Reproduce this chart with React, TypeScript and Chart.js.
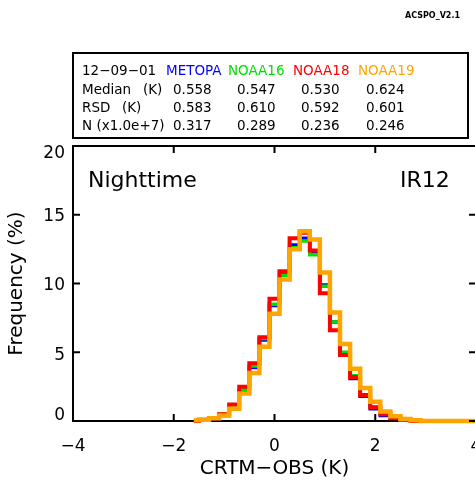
import React, { useEffect, useRef } from 'react';
import { Chart, registerables } from 'chart.js';

Chart.register(...registerables);

// ---- data ----
const binCenters = [
  -1.6, -1.4, -1.2, -1.0, -0.8, -0.6, -0.4, -0.2, 0.0, 0.2, 0.4, 0.6, 0.8, 1.0, 1.2,
  1.4, 1.6, 1.8, 2.0, 2.2, 2.4, 2.6, 2.8, 3.0, 3.2, 3.4, 3.6, 3.8, 4.0,
];
const metopaFreq = [
  0.0, 0.1, 0.2, 0.4, 1.0, 2.2, 3.9, 5.9, 8.4, 10.8, 12.8, 13.3, 12.3, 9.9, 7.2,
  4.9, 3.1, 1.8, 0.9, 0.4, 0.2, 0.1, 0.0, 0.0, 0.0, 0.0, 0.0, 0.0, 0.0,
];
const noaa16Freq = [
  0.0, 0.1, 0.2, 0.5, 1.1, 2.3, 4.0, 6.0, 8.5, 10.6, 12.6, 13.1, 12.1, 9.8, 7.2,
  5.0, 3.3, 1.9, 1.0, 0.5, 0.2, 0.1, 0.0, 0.0, 0.0, 0.0, 0.0, 0.0, 0.0,
];
const noaa18Freq = [
  0.0, 0.1, 0.2, 0.5, 1.2, 2.5, 4.2, 6.1, 8.9, 10.9, 13.3, 13.7, 12.4, 9.3, 6.6,
  4.8, 3.2, 1.9, 1.0, 0.5, 0.2, 0.1, 0.0, 0.0, 0.0, 0.0, 0.0, 0.0, 0.0,
];
const noaa19Freq = [
  0.05, 0.1, 0.2, 0.4, 0.9, 2.0, 3.5, 5.4, 7.8, 10.3, 12.5, 13.8, 13.2, 10.8, 7.9,
  5.6, 3.8, 2.4, 1.4, 0.7, 0.35, 0.15, 0.05, 0.0, 0.0, 0.0, 0.0, 0.0, 0.0,
];

const satellites = ['METOPA', 'NOAA16', 'NOAA18', 'NOAA19'];
const satColors = ['#0000ff', '#00e000', '#ff0000', '#ffa500'];
const medians = ['0.558', '0.547', '0.530', '0.624'];
const rsds = ['0.583', '0.610', '0.592', '0.601'];
const counts = ['0.317', '0.289', '0.236', '0.246'];
const dateLabel = '12\u221209\u221201';

const xTicks = [-4, -2, 0, 2, 4];
const yTicks = [0, 5, 10, 15, 20];

const FONT = '"DejaVu Sans", "Liberation Sans", sans-serif';

const fmt = (v: number) => (v < 0 ? '\u2212' + Math.abs(v) : String(v));

const overlay = {
  id: 'overlay',
  beforeDraw(chart: any) {
    const ys = chart.scales.y;
    try {
      const items = ys.getLabelItems(chart.chartArea);
      const shifts: Record<string, number> = { '0': -5, '5': 3, '10': 2, '15': 2, '20': 8 };
      items.forEach((it: any) => {
        if (it.__shifted) return;
        const s = shifts[String(it.label)] ?? 0;
        it.options.translation = [it.options.translation[0], it.options.translation[1] + s];
        it.__shifted = true;
      });
    } catch (e) {
      /* ignore */
    }
  },
  afterDraw(chart: any) {
    const ctx = chart.ctx as CanvasRenderingContext2D;
    const { left, right, top, bottom } = chart.chartArea;
    const xs = chart.scales.x;
    const ys = chart.scales.y;
    ctx.save();
    // frame top/right
    ctx.strokeStyle = '#000';
    ctx.lineWidth = 2;
    ctx.beginPath();
    ctx.moveTo(left - 1, top);
    ctx.lineTo(right, top);
    ctx.lineTo(right, bottom);
    ctx.stroke();
    // inward ticks
    const tl = 7;
    ctx.beginPath();
    xTicks.forEach((v) => {
      const px = xs.getPixelForValue(v);
      ctx.moveTo(px, bottom);
      ctx.lineTo(px, bottom - tl);
      ctx.moveTo(px, top);
      ctx.lineTo(px, top + tl);
    });
    yTicks.forEach((v) => {
      const py = ys.getPixelForValue(v);
      ctx.moveTo(left, py);
      ctx.lineTo(left + tl, py);
      ctx.moveTo(right, py);
      ctx.lineTo(right - tl, py);
    });
    ctx.stroke();

    // in-plot labels
    ctx.fillStyle = '#000';
    ctx.textBaseline = 'alphabetic';
    ctx.textAlign = 'left';
    ctx.font = `22px ${FONT}`;
    ctx.fillText('Nighttime', 88, 187);
    ctx.fillText('IR12', 400, 187);

    // version tag
    ctx.font = `bold 8px ${FONT}`;
    ctx.fillText('ACSPO_V2.1', 405, 18);

    // stats box
    ctx.fillStyle = '#fff';
    ctx.fillRect(73, 53, 395, 85);
    ctx.strokeStyle = '#000';
    ctx.lineWidth = 2;
    ctx.strokeRect(73, 53, 395, 85);

    ctx.font = `13.5px ${FONT}`;
    ctx.fillStyle = '#000';
    const rows = [75, 94, 112, 130];
    ctx.fillText(dateLabel, 82, rows[0]);
    ctx.fillText('Median', 82, rows[1]);
    ctx.fillText('(K)', 143, rows[1]);
    ctx.fillText('RSD', 82, rows[2]);
    ctx.fillText('(K)', 122, rows[2]);
    ctx.fillText('N (x1.0e+7)', 82, rows[3]);
    const headX = [166, 228, 293, 358];
    const valX = [173, 237, 301, 366];
    satellites.forEach((s, i) => {
      ctx.fillStyle = satColors[i];
      ctx.fillText(s, headX[i], rows[0]);
      ctx.fillStyle = '#000';
      ctx.fillText(medians[i], valX[i], rows[1]);
      ctx.fillText(rsds[i], valX[i], rows[2]);
      ctx.fillText(counts[i], valX[i], rows[3]);
    });
    ctx.restore();
  },
};

export default function App() {
  const ref = useRef<HTMLCanvasElement | null>(null);
  useEffect(() => {
    if (!ref.current) return;
    const series = [metopaFreq, noaa16Freq, noaa18Freq, noaa19Freq];
    const widths = [3.5, 3.5, 4, 4.5];
    const orders = [3, 2, 1, 0];
    const chart = new Chart(ref.current, {
      type: 'line',
      data: {
        datasets: series.map((vals, i) => ({
          label: satellites[i],
          data: binCenters.map((x, j) => ({ x, y: vals[j] })),
          borderColor: satColors[i],
          borderWidth: widths[i],
          stepped: 'middle' as const,
          pointRadius: 0,
          fill: false,
          order: orders[i],
          clip: false as any,
        })),
      },
      options: {
        responsive: false,
        animation: false,
        events: [],
        layout: { padding: { top: 146, left: 0, right: 9, bottom: 0 } },
        plugins: {
          legend: { display: false },
          tooltip: { enabled: false },
          title: { display: false },
        },
        scales: {
          x: {
            type: 'linear',
            min: -4,
            max: 4,
            afterBuildTicks: (s: any) => {
              s.ticks = xTicks.map((v) => ({ value: v }));
            },
            afterFit: (s: any) => {
              s.height = 61;
              s.paddingLeft = 0;
              s.paddingRight = 0;
            },
            grid: { display: false, drawTicks: false },
            border: { display: true, color: '#000', width: 2 },
            ticks: {
              color: '#000',
              font: { family: FONT, size: 17 },
              padding: 15,
              maxRotation: 0,
              autoSkip: false,
              callback: (v: any) => fmt(Number(v)),
            },
            title: {
              display: true,
              text: 'CRTM\u2212OBS (K)',
              color: '#000',
              font: { family: FONT, size: 20 },
              padding: { top: 0, bottom: 1 },
            },
          },
          y: {
            type: 'linear',
            min: 0,
            max: 20,
            afterBuildTicks: (s: any) => {
              s.ticks = yTicks.map((v) => ({ value: v }));
            },
            afterFit: (s: any) => {
              s.width = 73;
              s.paddingTop = 0;
              s.paddingBottom = 0;
            },
            grid: { display: false, drawTicks: false },
            border: { display: true, color: '#000', width: 2 },
            ticks: {
              color: '#000',
              font: { family: FONT, size: 17 },
              padding: 8,
              autoSkip: false,
              callback: (v: any) => String(v),
            },
            title: {
              display: true,
              text: 'Frequency (%)',
              color: '#000',
              font: { family: FONT, size: 20 },
              padding: { top: 5, bottom: 0 },
            },
          },
        },
      },
      plugins: [overlay],
    } as any);
    return () => chart.destroy();
  }, []);

  return (
    <div
      style={{
        position: 'absolute',
        left: 0,
        top: 0,
        width: 475,
        height: 482,
        overflow: 'hidden',
        background: '#fff',
      }}
    >
      <canvas ref={ref} width={485} height={482} style={{ width: 485, height: 482, display: 'block' }} />
    </div>
  );
}
